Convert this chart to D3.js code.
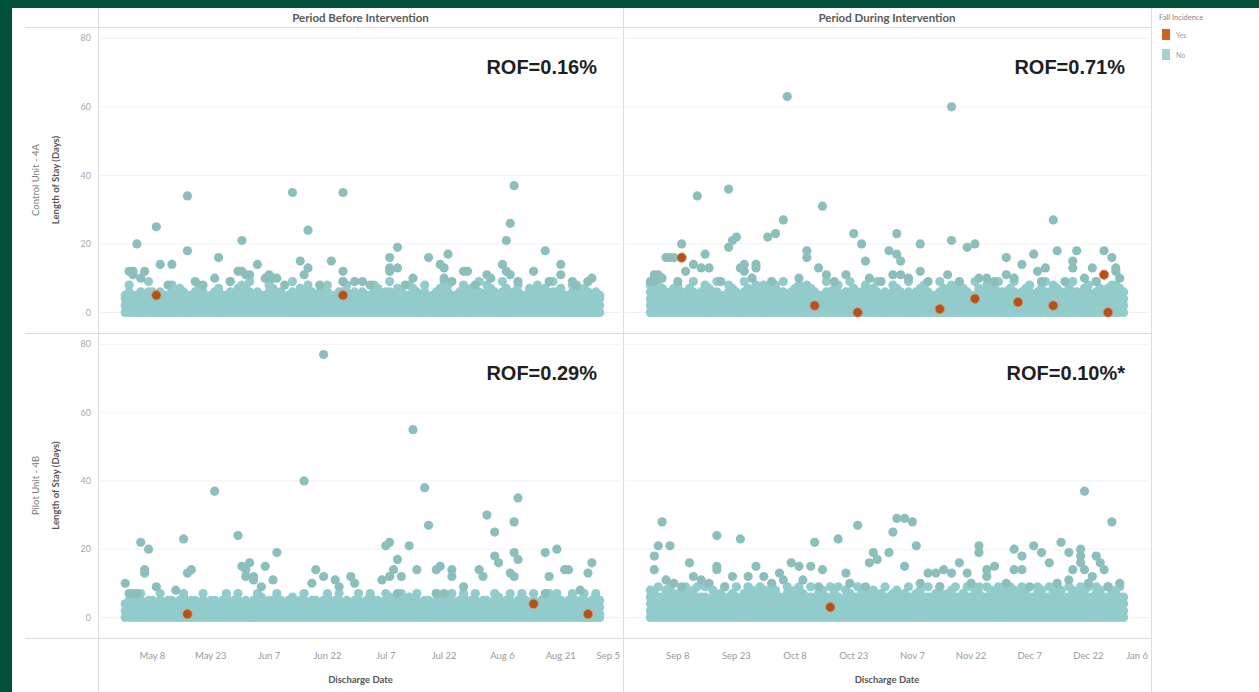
<!DOCTYPE html>
<html>
<head>
<meta charset="utf-8">
<script src="https://cdn.jsdelivr.net/npm/d3@7"></script>
<style>
  html, body { margin: 0; padding: 0; background: #02513a; }
  svg { display: block; font-family: Lato, "Open Sans", sans-serif; }
</style>
</head>
<body>
<svg id="chart" width="1259" height="692"></svg>
<script>
// ---- labels ----
const periods = ["Period Before Intervention", "Period During Intervention"];
const units = ["Control Unit - 4A", "Pilot Unit - 4B"];
const rofLabels = [["ROF=0.16%", "ROF=0.71%"], ["ROF=0.29%", "ROF=0.10%*"]];
const yTicks = [0, 20, 40, 60, 80];
const xTicksBefore = ["05-08", "05-23", "06-07", "06-22", "07-07", "07-22", "08-06", "08-21", "09-05"];
const xTicksDuring = ["09-08", "09-23", "10-08", "10-23", "11-07", "11-22", "12-07", "12-22", "01-06"];
const domainBefore = ["04-24", "09-06"];
const domainDuring = ["08-25", "01-07"];
const legendItems = ["Yes", "No"];

// ---- dense band of short stays: one token per discharge day, one digit per patient LOS ----
const monthsBefore = [5, 6, 7, 8];
const monthsDuring = [9, 10, 11, 12];

const ctrlBeforeBand = [
  "0245 02468 0245 0135 0246 0245 02469 0246 024 0246 0135 0245 02468 0245 02467 0246 0245 0135 0246 02458 0246 024 0245 0246 02467 0245 0135 02469 0245 02467 02468",
  "02467 02469 0245 0246 0135 0245 02468 02467 0245 0246 024 0245 02469 0135 02467 0246 02458 0246 0245 0246 02467 02468 0245 0135 0246 02469 02468 0245 0246 0245",
  "0246 0245 0135 02468 02467 0245 0246 02469 0245 02467 0246 0135 02458 02467 0246 0245 02468 024 0245 0246 02467 02469 02468 0245 0135 0246 02458 0246 02467 0245 02469",
  "0245 02468 02467 0246 0135 02469 02467 0245 0246 02468 0245 0135 02467 0246 02458 0246 02467 0245 02469 0246 02467 0245 0135 02468 0245 0246 02467 02469 0245 0246 0245"
];
const ctrlDuringBand = [
  "02468 02467 02469 02467 0246 0245 02467 02468 0246 0245 02467 02469 0135 0246 02458 02467 0246 02469 0245 0135 02468 02467 0246 0245 02469 02467 0246 02458 0246 02468",
  "0246 02467 02458 0246 02469 0135 0246 02467 02458 0246 02468 02467 0246 0245 0135 02469 0246 02467 02468 0245 0246 02469 02467 0135 0246 02458 0246 02467 02469 0245 0246",
  "0245 02468 02467 0246 0135 02469 0245 0246 02467 02468 0246 0245 0135 02469 02467 0246 02458 0246 02468 02467 0246 0135 02459 02467 0246 02468 0245 02467 02469 0246",
  "0246 02467 02469 0245 0246 02467 02468 0135 0246 02467 02459 0246 02468 02467 0246 0245 02467 02469 0246 0135 02467 02468 0245 02469 02467 0246 02467 02468 02468 02467 0246"
];
const pilotBeforeBand = [
  "024 0245 024 0135 02457 024 0245 0135 024 02457 024 0245 0135 024 0245 02467 024 0135 0245 024 02457 024 0135 0245 024 0245 02467 024 0135 02457 024",
  "0245 024 0135 02457 0246 024 0245 0135 02467 0245 024 0245 0246 024 0135 02457 024 0245 0135 024 0245 02467 024 0135 02457 024 0245 024 0135 02457",
  "024 0245 02467 0135 0245 024 02457 0246 0135 024 02457 024 0246 0135 02457 024 0245 0135 024 02457 0246 024 0135 02457 024 0245 02467 024 0135 02457 024",
  "0245 0135 024 02457 0246 024 0135 02457 024 0245 02467 0135 024 02457 024 0135 0245 02467 024 02457 0135 024 0245 02467 024 0135 02457 024 0245 02467 0135"
];
const pilotDuringBand = [
  "02468 02467 02469 0246 02468 02469 02467 0246 02458 02479 0246 02468 02469 0246 02469 0245 02468 0246 02467 02459 0246 02467 02469 0245 02467 02469 02468 0246 02479 02468",
  "02467 02469 02468 0246 0245 02479 0246 02468 02469 02467 0246 02469 0245 02467 02468 0246 02459 02467 02469 0245 02468 02467 0246 02469 02467 0246 02467 02468 0246 02467 02469",
  "0246 02467 02468 0246 02467 02469 0246 02467 02468 0246 02469 0246 02467 02479 0246 02467 02468 02469 0246 02467 02469 0246 02468 02479 0246 02469 02468 0246 02479 02468",
  "02467 02469 02468 0246 02479 02468 0246 0246 02479 02468 0246 02469 02467 02469 02468 0246 02469 02468 0246 02479 02468 02469 0246 02479 02468 0246 02469 02468 02467 02469 0246"
];

// ---- longer stays (no fall) ----
const ctrlBeforeNo = [
  ["05-02",12],["05-03",12],["05-03",11],["05-04",20],["05-05",10],["05-06",12],["05-09",25],["05-10",14],["05-12",8],
  ["05-13",14],["05-17",34],["05-17",18],["05-19",9],["05-21",8],["05-24",10],["05-25",16],["05-28",9],["05-30",12],
  ["05-31",21],["05-31",12],["06-01",11],["06-02",11],["06-04",14],["06-06",10],["06-07",11],["06-08",10],["06-09",10],
  ["06-11",8],["06-13",35],["06-15",15],["06-16",11],["06-17",24],["06-17",13],["06-20",8],["06-23",15],["06-26",35],
  ["06-26",12],["06-26",9],["06-29",9],["07-01",9],["07-03",8],["07-08",16],["07-08",13],["07-08",12],["07-10",19],
  ["07-10",13],["07-12",8],["07-14",10],["07-18",16],["07-21",14],["07-22",13],["07-22",10],["07-23",17],["07-24",9],
  ["07-27",12],["07-28",12],["07-30",8],["08-02",11],["08-03",10],["08-06",14],["08-07",21],["08-08",26],["08-09",37],
  ["08-07",12],["08-08",11],["08-10",9],["08-14",12],["08-17",18],["08-18",9],["08-21",14],["08-21",11],["08-24",9],
  ["08-25",8],["08-28",9],["08-29",10]
];
const ctrlDuringNo = [
  ["09-01",9],["09-02",11],["09-03",11],["09-02",9],["09-04",10],["09-05",16],["09-06",16],["09-07",16],["09-08",9],
  ["09-09",20],["09-10",12],["09-12",14],["09-13",34],["09-14",13],["09-15",17],["09-16",13],["09-19",9],["09-21",36],
  ["09-21",19],["09-22",21],["09-23",22],["09-24",13],["09-25",12],["09-25",14],["09-27",10],["09-28",14],["09-28",13],
  ["10-01",22],["10-02",9],["10-03",23],["10-05",27],["10-06",63],["10-09",10],["10-11",18],["10-11",16],["10-14",13],
  ["10-15",31],["10-16",11],["10-18",9],["10-21",11],["10-23",23],["10-25",20],["10-26",15],["10-27",10],["10-30",9],
  ["11-01",18],["11-03",23],["11-03",17],["11-02",11],["11-04",15],["11-04",11],["11-06",10],["11-09",20],["11-09",12],
  ["11-11",9],["11-16",11],["11-17",60],["11-17",21],["11-19",9],["11-21",19],["11-23",20],["11-24",10],["11-26",10],
  ["11-28",9],["12-01",16],["12-01",11],["12-03",10],["12-05",14],["12-08",17],["12-09",12],["12-10",9],["12-11",13],
  ["12-13",27],["12-14",18],["12-16",9],["12-18",15],["12-18",13],["12-19",18],["12-21",10],["12-23",13],["12-24",9],
  ["12-26",18],["12-28",16],["12-29",13],["12-29",12],["12-30",10]
];
const pilotBeforeNo = [
  ["05-01",10],["05-02",7],["05-03",7],["05-04",7],["05-05",22],["05-06",14],["05-06",13],["05-07",20],["05-09",9],
  ["05-14",8],["05-16",23],["05-17",13],["05-18",14],["05-24",37],["05-30",24],["05-31",15],["06-01",14],["06-01",12],
  ["06-02",16],["06-03",12],["06-03",11],["06-05",9],["06-06",15],["06-08",11],["06-09",19],["06-16",40],["06-18",10],
  ["06-19",14],["06-21",77],["06-21",12],["06-24",11],["06-25",9],["06-28",12],["06-29",10],["07-06",11],["07-07",21],
  ["07-08",22],["07-08",12],["07-09",14],["07-10",17],["07-10",7],["07-11",12],["07-13",21],["07-14",55],["07-15",14],
  ["07-17",38],["07-18",27],["07-20",14],["07-20",7],["07-21",15],["07-22",7],["07-24",14],["07-24",12],["07-27",9],
  ["07-31",14],["08-01",12],["08-02",30],["08-04",25],["08-04",18],["08-05",16],["08-08",13],["08-09",28],["08-09",19],
  ["08-10",35],["08-10",17],["08-09",12],["08-17",19],["08-17",7],["08-18",12],["08-20",20],["08-22",14],["08-23",14],
  ["08-26",8],["08-28",13],["08-29",16]
];
const pilotDuringNo = [
  ["09-02",18],["09-02",14],["09-03",21],["09-04",28],["09-06",21],["09-05",11],["09-07",10],["09-09",9],["09-11",16],
  ["09-12",12],["09-14",11],["09-16",10],["09-18",24],["09-18",15],["09-18",14],["09-20",9],["09-22",12],["09-24",23],
  ["09-26",12],["09-28",15],["09-30",12],["10-02",10],["10-04",13],["10-05",11],["10-07",16],["10-09",15],["10-10",11],
  ["10-12",15],["10-13",22],["10-14",9],["10-15",14],["10-19",23],["10-21",13],["10-22",10],["10-24",27],["10-26",9],
  ["10-27",16],["10-28",19],["10-29",17],["11-01",19],["11-02",25],["11-03",29],["11-05",29],["11-07",28],["11-05",15],
  ["11-08",21],["11-09",10],["11-11",13],["11-13",13],["11-14",9],["11-15",14],["11-17",13],["11-19",16],["11-21",13],
  ["11-22",10],["11-24",21],["11-24",19],["11-26",14],["11-26",12],["11-28",15],["12-01",10],["12-03",20],["12-03",14],
  ["12-05",18],["12-05",14],["12-07",9],["12-08",21],["12-10",19],["12-12",16],["12-14",10],["12-15",22],["12-17",19],
  ["12-17",11],["12-18",14],["12-21",37],["12-20",20],["12-20",18],["12-20",16],["12-21",14],["12-22",10],["12-23",12],
  ["12-24",18],["12-25",16],["12-26",14],["12-27",9],["12-28",28],["12-30",10]
];

// ---- falls ----
const ctrlBeforeYes = [["05-09",5],["06-26",5]];
const ctrlDuringYes = [["09-09",16],["10-13",2],["10-24",0],["11-14",1],["11-23",4],["12-04",3],["12-13",2],["12-26",11],["12-27",0]];
const pilotBeforeYes = [["05-17",1],["08-14",4],["08-28",1]];
const pilotDuringYes = [["10-17",3]];

// ---- helpers ----
const toDate = md => {
  const [m, d] = md.split("-").map(Number);
  return new Date(m === 1 ? 2019 : 2018, m - 1, d);
};

function expandBand(monthStrs, months) {
  const pts = [];
  monthStrs.forEach((s, k) => {
    s.trim().split(/\s+/).forEach((tok, i) => {
      const date = new Date(2018, months[k] - 1, i + 1);
      for (const c of tok) pts.push({date: date, los: +c});
    });
  });
  return pts;
}
const toPts = arr => arr.map(d => ({date: toDate(d[0]), los: d[1]}));

const cols = [
  {x0: 98, x1: 623, domain: domainBefore, ticks: xTicksBefore, months: monthsBefore},
  {x0: 623, x1: 1151, domain: domainDuring, ticks: xTicksDuring, months: monthsDuring}
];
const rows = [{y0: 27, y1: 333}, {y0: 333, y1: 638}];
const panels = [
  {r: 0, c: 0, band: ctrlBeforeBand, no: ctrlBeforeNo, yes: ctrlBeforeYes},
  {r: 0, c: 1, band: ctrlDuringBand, no: ctrlDuringNo, yes: ctrlDuringYes},
  {r: 1, c: 0, band: pilotBeforeBand, no: pilotBeforeNo, yes: pilotBeforeYes},
  {r: 1, c: 1, band: pilotDuringBand, no: pilotDuringNo, yes: pilotDuringYes}
];

const colNo = "#92cbcb", colNoOut = "#8cbfbb", colYes = "#b4521c";
const fmt = d3.timeFormat("%b %-d");

const svg = d3.select("#chart");
svg.append("rect").attr("x", 12).attr("y", 8).attr("width", 1247).attr("height", 684).attr("fill", "#fff");

cols.forEach(c => {
  c.x = d3.scaleTime().domain(c.domain.map(toDate)).range([c.x0, c.x1]);
});
rows.forEach(r => {
  r.y = d3.scaleLinear().domain([-6, 83.3]).range([r.y1, r.y0]);
});

// gridlines
panels.forEach(p => {
  const c = cols[p.c], r = rows[p.r];
  svg.append("g").selectAll("line").data(yTicks).join("line")
    .attr("x1", c.x0 + 2).attr("x2", c.x1 - 2)
    .attr("y1", d => r.y(d)).attr("y2", d => r.y(d))
    .attr("stroke", "#f1f1f1").attr("stroke-width", 1);
});

// frame lines
const frame = svg.append("g").attr("stroke", "#dcdcdc").attr("stroke-width", 1);
[27, 333, 638].forEach(y => frame.append("line").attr("x1", 25).attr("x2", 1151).attr("y1", y + 0.5).attr("y2", y + 0.5));
[98, 623, 1151].forEach(x => frame.append("line").attr("x1", x + 0.5).attr("x2", x + 0.5).attr("y1", 8).attr("y2", 692));

// marks
panels.forEach(p => {
  const c = cols[p.c], r = rows[p.r];
  const g = svg.append("g");
  g.append("g").selectAll("circle").data(expandBand(p.band, c.months)).join("circle")
    .attr("cx", d => c.x(d.date)).attr("cy", d => r.y(d.los)).attr("r", 4.6)
    .attr("fill", colNo);
  g.append("g").selectAll("circle").data(toPts(p.no)).join("circle")
    .attr("cx", d => c.x(d.date)).attr("cy", d => r.y(d.los)).attr("r", 4.6)
    .attr("fill", colNoOut);
  g.append("g").selectAll("circle").data(toPts(p.yes)).join("circle")
    .attr("cx", d => c.x(d.date)).attr("cy", d => r.y(d.los)).attr("r", 4.7)
    .attr("fill", colYes).attr("stroke", "#e0925a").attr("stroke-width", 0.8);

  svg.append("text")
    .attr("x", c.x1 - 26).attr("y", r.y0 + 47)
    .attr("text-anchor", "end")
    .style("font-family", "'Liberation Sans', Arial, sans-serif")
    .style("font-weight", "bold").style("font-size", "20px")
    .attr("fill", "#1f1f1f")
    .text(rofLabels[p.r][p.c]);
});

// y axes
rows.forEach((r, i) => {
  svg.append("g").selectAll("text").data(yTicks).join("text")
    .attr("x", 91).attr("y", d => r.y(d)).attr("dy", "0.35em")
    .attr("text-anchor", "end").attr("fill", "#a8a8a8").style("font-size", "9px")
    .text(d => d);
  const cy = (r.y0 + r.y1) / 2;
  svg.append("text")
    .attr("transform", `translate(39,${cy}) rotate(-90)`)
    .attr("text-anchor", "middle").attr("fill", "#7a7a7a").style("font-size", "9.5px")
    .text(units[i]);
  svg.append("text")
    .attr("transform", `translate(59,${cy}) rotate(-90)`)
    .attr("text-anchor", "middle").attr("fill", "#555").style("font-size", "9.5px").style("font-weight", "bold")
    .text("Length of Stay (Days)");
});

// x axes and headers
cols.forEach((c, i) => {
  const mid = (c.x0 + c.x1) / 2;
  svg.append("text").attr("x", mid).attr("y", 22).attr("text-anchor", "middle")
    .attr("fill", "#5a5a5a").style("font-size", "11.5px").style("font-weight", "bold")
    .text(periods[i]);
  svg.append("g").selectAll("text").data(c.ticks.map(toDate)).join("text")
    .attr("x", d => c.x(d)).attr("y", 659).attr("text-anchor", "middle")
    .attr("fill", "#9a9a9a").style("font-size", "9.5px")
    .text(d => fmt(d))
    .each(function(d) {
      const w = this.getComputedTextLength();
      if (c.x(d) + w / 2 > c.x1 - 3) d3.select(this).attr("x", c.x1 - 3).attr("text-anchor", "end");
    });
  svg.append("text").attr("x", mid).attr("y", 683).attr("text-anchor", "middle")
    .attr("fill", "#555").style("font-size", "9.5px").style("font-weight", "bold")
    .text("Discharge Date");
});

// legend
const lg = svg.append("g");
lg.append("text").attr("x", 1159).attr("y", 20).attr("fill", "#888").style("font-size", "7.5px").text("Fall Incidence");
lg.selectAll("rect").data(legendItems).join("rect")
  .attr("x", 1162).attr("y", (d, i) => 29 + i * 20).attr("width", 8).attr("height", 11)
  .attr("fill", (d, i) => i === 0 ? "#cf631d" : "#a3d2d2");
lg.selectAll("text.item").data(legendItems).join("text").attr("class", "item")
  .attr("x", 1176).attr("y", (d, i) => 37.5 + i * 20).attr("fill", "#a0a0a0").style("font-size", "7px")
  .text(d => d);
</script>
</body>
</html>
